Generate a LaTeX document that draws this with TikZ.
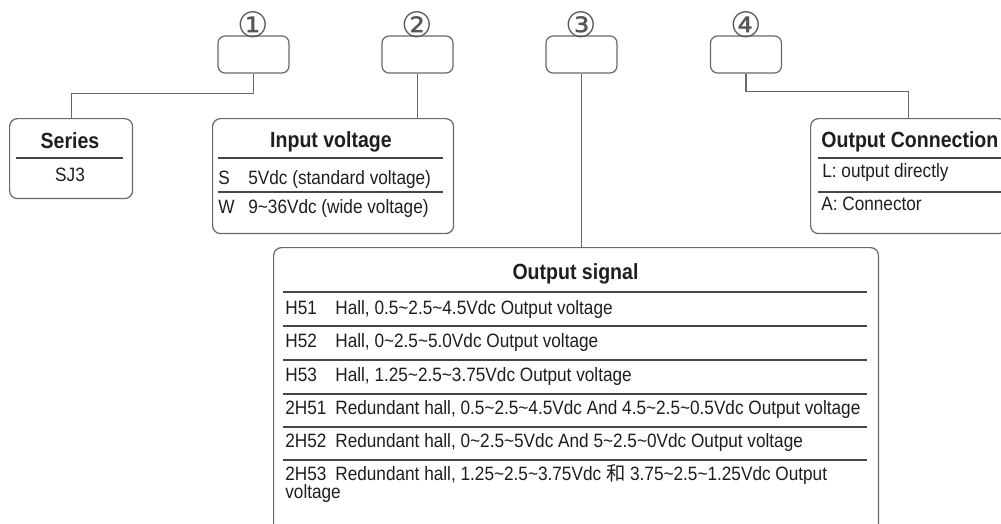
\documentclass[tikz,border=0pt]{standalone}
\usepackage{fontspec}
\setmainfont{Liberation Sans}[FakeStretch=0.89]
\newfontfamily\circfont{DejaVu Sans}
\newfontfamily\cjk{Noto Sans CJK SC}
\definecolor{ink}{RGB}{30,30,30}
\definecolor{frame}{RGB}{105,105,105}
\definecolor{rule}{RGB}{70,70,70}
\newcommand{\tl}{\textasciitilde}

\begin{document}
\begin{tikzpicture}[x=0.02cm, y=-0.02cm, font=\fontsize{11}{13}\selectfont, text=ink,
    sel/.style={draw=frame, line width=0.7pt, rounded corners=4pt, minimum width=1.42cm, minimum height=0.74cm, inner sep=0pt},
    panel/.style={draw=frame, line width=0.7pt, rounded corners=4.5pt, anchor=north west, inner sep=0pt},
    hd/.style={font=\fontsize{12.5}{14}\selectfont\bfseries, anchor=base, inner sep=0pt},
    row/.style={anchor=base west, inner sep=0pt},
    sep/.style={draw=rule, line width=0.6pt},
    wire/.style={draw=frame, line width=0.6pt}]
  \useasboundingbox (0,0) rectangle (1001,524);
  % option boxes with their numbers
  \foreach \i/\x/\c in {1/253.5/①, 2/417.5/②, 3/581.5/③, 4/746/④} {
    \node[sel] (sel\i) at (\x,54.5) {};
    \node[font=\circfont\fontsize{20}{20}\selectfont, inner sep=0pt, text=ink!75] (num\i) at (\x,25) {\c};
  }
  % series
  \node[panel, minimum width=2.46cm, minimum height=1.6cm] (series) at (9,118) {};
  \node[hd] (seriesT) at (70,148) {Series};
  \draw[sep] (16,158) -- (123,158);
  \node[anchor=base, inner sep=0pt] (seriesV) at (70,181) {SJ3};
  % input voltage
  \node[panel, minimum width=4.82cm, minimum height=2.3cm] (involt) at (212,118) {};
  \node[hd] (involtT) at (331,147) {Input voltage};
  \draw[sep] (218,158) -- (443,158);
  \draw[sep] (218,192) -- (443,192);
  \foreach \c/\d/\y in {S/{5Vdc (standard voltage)}/184, W/{9\tl36Vdc (wide voltage)}/213} {
    \node[row] (iv\c) at (\ifx\c S 221\else 218\fi,\y) {\c};
    \node[row] (ivd\c) at (248,\y) {\d};
  }
  % output connection
  \node[panel, minimum width=3.92cm, minimum height=2.3cm] (conn) at (810,118) {};
  \node[hd, anchor=base west] (connT) at (821,147) {Output Connection};
  \draw[sep] (818,158) -- (1010,158);
  \draw[sep] (818,192) -- (1010,192);
  \node[row] (connL) at (822,177) {L: output directly};
  \node[row] (connA) at (821,210) {A: Connector};
  % output signal
  \node[panel, minimum width=12.1cm, minimum height=6.26cm] (sig) at (273,247) {};
  \node[hd] (sigT) at (575.5,279) {Output signal};
  \foreach \y in {292,326,360,394,427,460}
    \draw[sep] (283,\y) -- (867,\y);
  \foreach \c/\d/\y in {H51/{Hall, 0.5\tl2.5\tl4.5Vdc Output voltage}/314,
      H52/{Hall, 0\tl2.5\tl5.0Vdc Output voltage}/347,
      H53/{Hall, 1.25\tl2.5\tl3.75Vdc Output voltage}/381,
      2H51/{Redundant hall, 0.5\tl2.5\tl4.5Vdc And 4.5\tl2.5\tl0.5Vdc Output voltage}/414,
      2H52/{Redundant hall, 0\tl2.5\tl5Vdc And 5\tl2.5\tl0Vdc Output voltage}/447,
      2H53/{Redundant hall, 1.25\tl2.5\tl3.75Vdc {\cjk 和} 3.75\tl2.5\tl1.25Vdc Output}/480} {
    \node[row] (sc\c) at (285,\y) {\c};
    \node[row] (sd\c) at (335,\y) {\d};
  }
  \node[row] (sdwrap) at (285,498) {voltage};
  % connectors
  \draw[wire] (sel1.south) -- ++(0,20) -| (series.north);
  \draw[wire] (sel2.south) -- (sel2.south |- involt.north);
  \draw[wire] (sel3.south) -- (sel3.south |- sig.north);
  \draw[wire] (sel4.south) -- ++(0,18) -| (conn.north);
\end{tikzpicture}
\end{document}
